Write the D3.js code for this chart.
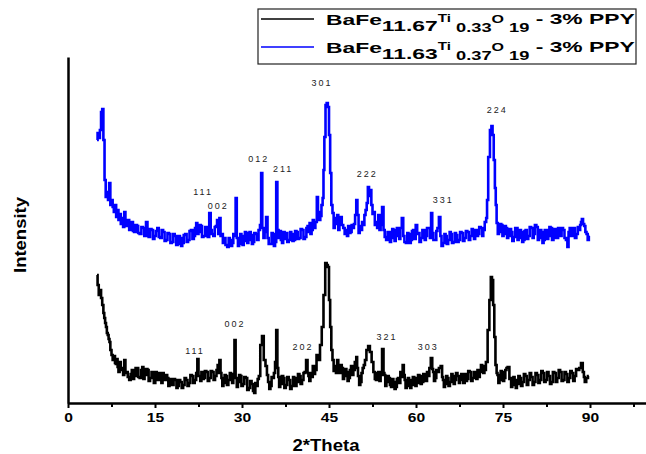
<!DOCTYPE html>
<html>
<head>
<meta charset="utf-8">
<script src="https://cdn.jsdelivr.net/npm/d3@7"></script>
<style>
  body { margin: 0; background: #fff; }
  text { font-family: "Liberation Sans", Arial, sans-serif; }
</style>
</head>
<body>
<div id="plot"></div>
<script>
// Dimensions
const w = 646;
const h = 454;
const margin = { top: 57, right: 0, bottom: 51, left: 68 };

// XRD patterns: [2*theta, intensity]
const blackPattern = [
  [5.0,128],[5.2,118],[5.4,108],[5.6,113],[5.8,105],[6.0,98],[6.2,90],[6.3,85],[6.5,80],[6.6,76],
  [6.8,70],[6.9,68],[7.1,64],[7.2,61],[7.4,53],[7.6,48],[7.8,43],[8.0,47],[8.2,40],[8.3,39],
  [8.5,44],[8.6,36],[8.8,31],[9.0,41],[9.2,35],[9.4,33],[9.6,28],[9.8,43],[10.0,30],[10.2,31],
  [10.4,26],[10.7,23],[10.9,29],[11.1,33],[11.3,24],[11.5,27],[11.8,35],[12.0,35],[12.2,26],[12.5,25],
  [12.7,33],[12.9,36],[13.1,24],[13.3,28],[13.6,34],[13.8,33],[14.0,22],[14.3,25],[14.5,31],[14.7,25],
  [14.9,20],[15.2,31],[15.4,26],[15.6,23],[15.8,30],[16.0,27],[16.2,20],[16.4,30],[16.6,26],[16.8,23],
  [17.0,28],[17.2,25],[17.4,17],[17.6,19],[17.8,24],[18.1,18],[18.3,24],[18.6,23],[18.8,15],[19.0,17],
  [19.2,23],[19.5,21],[19.7,15],[20.0,18],[20.2,25],[20.5,23],[20.7,17],[21.0,20],[21.2,28],[21.5,27],
  [21.7,20],[22.0,23],[22.2,30],[22.4,44],[22.6,27],[22.7,27],[22.9,22],[23.1,31],[23.3,24],[23.5,25],
  [23.7,32],[24.0,31],[24.2,22],[24.5,25],[24.7,32],[25.0,31],[25.2,23],[25.5,27],[25.7,33],[25.9,38],
  [26.0,30],[26.2,43],[26.4,30],[26.5,25],[26.7,17],[26.9,20],[27.1,28],[27.3,27],[27.5,18],[27.8,23],
  [28.0,30],[28.2,29],[28.4,20],[28.6,25],[28.8,63],[29.0,25],[29.2,16],[29.4,21],[29.6,28],[29.8,27],
  [30.0,17],[30.3,19],[30.5,26],[30.8,25],[31.0,13],[31.3,15],[31.5,22],[31.8,19],[32.0,12],[32.2,10],
  [32.4,20],[32.6,17],[32.8,24],[33.0,27],[33.3,58],[33.6,67],[33.9,43],[34.2,37],[34.4,28],[34.6,21],
  [34.8,14],[35.0,17],[35.2,26],[35.4,25],[35.6,30],[35.8,41],[36.0,73],[36.2,35],[36.3,26],[36.5,16],
  [36.7,19],[37.0,27],[37.2,25],[37.4,15],[37.7,18],[37.9,26],[38.2,23],[38.4,14],[38.7,17],[38.9,26],
  [39.1,25],[39.3,17],[39.5,21],[39.8,29],[40.0,27],[40.2,19],[40.5,23],[40.7,30],[40.9,31],[41.2,43],
  [41.4,30],[41.5,27],[41.7,22],[41.9,30],[42.1,26],[42.3,37],[42.5,29],[42.7,33],[43.0,48],[43.3,43],
  [43.6,58],[43.9,76],[44.2,108],[44.5,140],[44.7,138],[44.9,136],[45.1,103],[45.3,76],[45.5,53],[45.7,43],
  [45.9,32],[46.1,37],[46.3,30],[46.5,43],[46.7,35],[46.9,30],[47.1,38],[47.3,35],[47.5,24],[47.7,27],
  [47.9,34],[48.1,31],[48.3,22],[48.5,25],[48.7,33],[48.9,37],[49.1,28],[49.3,33],[49.6,41],[49.8,46],
  [49.9,35],[50.1,27],[50.3,18],[50.5,21],[50.7,30],[50.9,35],[51.1,38],[51.3,43],[51.6,53],[51.9,57],
  [52.2,51],[52.5,41],[52.8,31],[53.0,24],[53.2,23],[53.4,30],[53.6,31],[53.8,22],[54.0,28],[54.3,54],
  [54.5,30],[54.6,28],[54.8,17],[55.0,21],[55.2,27],[55.4,25],[55.6,18],[55.8,16],[56.0,24],[56.2,21],
  [56.4,14],[56.6,16],[56.8,24],[57.0,25],[57.2,20],[57.4,31],[57.6,26],[57.8,38],[58.0,28],[58.1,23],
  [58.3,15],[58.5,17],[58.7,25],[58.9,23],[59.1,15],[59.3,18],[59.6,26],[59.8,25],[60.0,17],[60.2,20],
  [60.5,28],[60.7,27],[60.9,19],[61.1,21],[61.4,29],[61.6,25],[61.8,22],[62.0,31],[62.2,27],[62.4,35],
  [62.7,45],[62.9,34],[63.0,31],[63.2,22],[63.4,25],[63.6,33],[63.8,31],[64.1,35],[64.4,37],[64.6,26],
  [64.7,23],[64.9,16],[65.1,19],[65.3,27],[65.5,25],[65.7,17],[66.0,21],[66.2,29],[66.4,27],[66.6,19],
  [66.8,23],[67.0,30],[67.3,27],[67.5,20],[67.7,23],[67.9,29],[68.0,25],[68.3,20],[68.5,29],[68.7,22],
  [68.9,24],[69.1,32],[69.4,31],[69.6,22],[69.9,25],[70.1,31],[70.3,28],[70.5,24],[70.7,33],[70.9,26],
  [71.1,31],[71.3,38],[71.5,37],[71.7,30],[71.9,33],[72.2,41],[72.5,73],[72.8,103],[73.0,126],[73.2,123],
  [73.4,98],[73.6,66],[73.8,38],[74.0,30],[74.1,28],[74.3,20],[74.5,23],[74.7,32],[74.9,31],[75.1,22],
  [75.3,25],[75.5,33],[75.7,35],[75.9,36],[76.0,36],[76.2,24],[76.3,25],[76.5,16],[76.7,18],[76.9,26],
  [77.1,23],[77.3,15],[77.5,19],[77.8,27],[78.0,25],[78.2,17],[78.5,21],[78.7,29],[79.0,27],[79.2,18],
  [79.5,23],[79.7,30],[80.0,26],[80.2,18],[80.5,21],[80.7,30],[81.0,28],[81.2,20],[81.5,23],[81.7,32],
  [82.0,30],[82.2,21],[82.5,23],[82.7,31],[83.0,27],[83.2,19],[83.5,21],[83.7,31],[84.0,30],[84.2,21],
  [84.5,25],[84.7,33],[85.0,31],[85.2,22],[85.5,23],[85.7,31],[86.0,29],[86.2,21],[86.5,25],[86.7,32],
  [87.0,30],[87.2,22],[87.5,27],[87.7,34],[88.0,33],[88.3,35],[88.6,40],[88.9,31],[89.0,26],[89.2,21],
  [89.5,25],[89.8,27]
];

const bluePattern = [
  [5.0,118],[5.2,125],[5.4,120],[5.6,128],[5.8,146],[6.0,149],[6.2,118],[6.4,78],[6.6,61],[6.8,66],
  [7.0,58],[7.2,75],[7.4,53],[7.6,58],[7.8,51],[8.0,46],[8.2,53],[8.4,41],[8.6,48],[8.8,38],
  [9.0,44],[9.2,34],[9.4,40],[9.6,31],[9.8,46],[10.0,35],[10.2,32],[10.4,38],[10.7,28],[10.9,34],
  [11.1,36],[11.3,27],[11.5,26],[11.8,33],[12.0,32],[12.2,25],[12.5,24],[12.8,31],[13.0,30],[13.3,22],
  [13.6,36],[13.8,26],[14.0,21],[14.3,29],[14.5,28],[14.8,19],[15.0,22],[15.3,27],[15.5,30],[15.8,21],
  [16.0,20],[16.3,28],[16.5,26],[16.8,17],[17.0,18],[17.3,25],[17.5,24],[17.8,15],[18.0,16],[18.3,24],
  [18.5,22],[18.8,13],[19.0,14],[19.2,22],[19.4,20],[19.6,12],[19.8,15],[20.1,23],[20.3,24],[20.6,16],
  [20.8,18],[21.1,27],[21.3,28],[21.6,19],[21.8,22],[22.0,30],[22.2,35],[22.4,24],[22.6,26],[22.8,33],
  [23.0,32],[23.2,21],[23.5,22],[23.8,31],[24.0,30],[24.2,21],[24.5,45],[24.7,28],[24.9,24],[25.2,22],
  [25.4,31],[25.6,32],[25.8,38],[26.0,24],[26.2,40],[26.4,22],[26.6,24],[26.8,15],[27.0,20],[27.3,13],
  [27.6,11],[27.8,20],[28.0,18],[28.2,12],[28.4,15],[28.6,24],[28.8,22],[29.0,60],[29.2,20],[29.4,12],
  [29.6,14],[29.8,24],[30.0,22],[30.2,13],[30.4,17],[30.6,26],[30.8,25],[31.0,15],[31.2,18],[31.4,26],
  [31.6,23],[31.8,14],[32.0,16],[32.2,25],[32.5,24],[32.7,18],[33.0,28],[33.2,33],[33.4,85],[33.6,30],
  [33.8,20],[34.0,26],[34.3,41],[34.5,20],[34.7,14],[35.0,14],[35.2,25],[35.4,24],[35.6,12],[35.8,16],
  [36.0,76],[36.2,28],[36.4,20],[36.6,27],[36.8,18],[37.0,15],[37.2,26],[37.5,19],[37.7,25],[37.9,16],
  [38.2,18],[38.4,26],[38.6,24],[38.8,17],[39.0,18],[39.3,27],[39.5,26],[39.7,19],[40.0,20],[40.2,29],
  [40.5,28],[40.7,19],[41.0,21],[41.2,30],[41.4,32],[41.6,26],[41.7,35],[41.9,24],[42.1,28],[42.3,38],
  [42.5,30],[42.8,36],[43.0,61],[43.2,46],[43.4,38],[43.6,42],[43.8,53],[44.0,60],[44.1,88],[44.3,121],
  [44.5,153],[44.7,155],[44.9,151],[45.1,123],[45.3,85],[45.5,53],[45.7,45],[45.9,30],[46.1,40],[46.3,34],
  [46.5,43],[46.7,28],[46.9,33],[47.1,41],[47.3,33],[47.6,30],[47.8,24],[48.0,28],[48.2,22],[48.4,32],
  [48.6,25],[48.8,26],[49.0,33],[49.2,30],[49.4,34],[49.6,43],[49.8,58],[50.0,43],[50.2,25],[50.4,32],
  [50.6,28],[50.8,36],[51.0,33],[51.2,43],[51.4,48],[51.6,55],[51.8,71],[52.0,62],[52.2,68],[52.4,53],
  [52.6,44],[52.8,46],[53.0,33],[53.2,36],[53.4,30],[53.6,43],[53.8,28],[54.0,33],[54.3,51],[54.5,28],
  [54.7,21],[55.0,18],[55.2,26],[55.4,26],[55.6,16],[55.8,20],[56.0,29],[56.2,28],[56.4,17],[56.6,22],
  [56.8,30],[57.0,26],[57.2,19],[57.4,30],[57.7,40],[57.9,22],[58.1,16],[58.4,15],[58.6,25],[58.8,24],
  [59.0,15],[59.2,18],[59.4,27],[59.6,28],[59.8,19],[60.1,33],[60.3,24],[60.5,25],[60.7,16],[61.0,20],
  [61.2,28],[61.4,28],[61.6,18],[61.8,22],[62.0,30],[62.3,30],[62.5,20],[62.7,45],[62.9,25],[63.1,18],
  [63.4,18],[63.6,27],[63.8,30],[64.1,41],[64.3,22],[64.5,12],[64.8,15],[65.0,24],[65.2,22],[65.4,14],
  [65.7,18],[65.9,26],[66.1,24],[66.3,15],[66.6,16],[66.8,25],[67.0,23],[67.2,16],[67.5,18],[67.7,26],
  [68.0,25],[68.2,17],[68.5,20],[68.7,27],[69.0,26],[69.2,18],[69.5,22],[69.7,29],[69.9,23],[70.1,19],
  [70.3,28],[70.6,22],[70.8,24],[71.0,31],[71.3,30],[71.5,22],[71.7,28],[72.0,36],[72.2,40],[72.3,58],
  [72.6,101],[72.9,128],[73.1,132],[73.3,123],[73.5,98],[73.7,70],[73.8,53],[74.0,35],[74.2,24],[74.4,26],
  [74.6,34],[74.8,33],[75.0,22],[75.2,24],[75.4,32],[75.6,30],[75.8,20],[76.0,22],[76.3,29],[76.5,26],
  [76.7,17],[77.0,21],[77.2,30],[77.4,30],[77.6,18],[77.8,20],[78.0,28],[78.2,26],[78.4,16],[78.6,18],
  [78.8,27],[79.0,28],[79.2,19],[79.5,22],[79.7,31],[80.0,30],[80.2,20],[80.4,24],[80.6,33],[80.9,31],
  [81.1,18],[81.3,20],[81.5,28],[81.7,26],[81.9,15],[82.1,18],[82.3,28],[82.5,28],[82.7,19],[82.9,22],
  [83.1,31],[83.3,30],[83.6,18],[83.8,20],[84.0,29],[84.2,26],[84.4,20],[84.6,30],[84.8,24],[85.0,22],
  [85.2,30],[85.5,28],[85.7,20],[86.0,18],[86.2,11],[86.4,26],[86.6,30],[86.9,22],[87.1,28],[87.3,30],
  [87.5,20],[87.8,24],[88.0,31],[88.2,28],[88.4,33],[88.5,36],[88.7,39],[88.9,34],[89.1,32],[89.3,26],
  [89.5,24],[89.7,18],[89.9,22]
];
const blueOffset = 145;

// Miller indices: [label, 2*theta, intensity]
const blackPeaks = [["111",21.9,52],["002",28.8,79],["202",40.5,56],["321",55.0,66],["303",62.1,56]];
const bluePeaks = [["111",23.3,66],["002",25.9,52],["012",32.9,99],["211",37.1,89],
                   ["301",43.8,175],["222",51.6,84],["331",64.7,58],["224",74.0,148]];

const xTicks = [0, 15, 30, 45, 60, 75, 90];
const xMinor = [7.5, 22.5, 37.5, 52.5, 67.5, 82.5, 97.5];

const svg = d3.select("div#plot")
  .append("svg")
  .attr("width", w)
  .attr("height", h);

// Scales
const xScale = d3.scaleLinear().domain([0, 100]).range([margin.left, 648]);
const yScale = d3.scaleLinear().domain([0, 346]).range([h - margin.bottom, margin.top]);

// Patterns
const line = d3.line()
  .curve(d3.curveStep)
  .x(d => xScale(d[0]));

svg.append("path")
  .datum(blackPattern)
  .attr("fill", "none")
  .attr("stroke", "#000")
  .attr("stroke-width", 2.6)
  .attr("d", line.y(d => yScale(d[1])));

svg.append("path")
  .datum(bluePattern)
  .attr("fill", "none")
  .attr("stroke", "#0000ff")
  .attr("stroke-width", 2.6)
  .attr("d", line.y(d => yScale(d[1] + blueOffset)));

// Peak labels
const peakText = (data, off) => svg.append("g")
  .selectAll("text")
  .data(data)
  .enter().append("text")
  .attr("x", d => xScale(d[1]))
  .attr("y", d => yScale(d[2] + off) + 3)
  .attr("text-anchor", "middle")
  .attr("font-size", 9)
  .attr("letter-spacing", 2)
  .attr("fill", "#222")
  .text(d => d[0]);
peakText(blackPeaks, 0);
peakText(bluePeaks, blueOffset);

// Axes
const xAxisGroup = svg.append("g")
  .attr("transform", `translate(0, ${h - margin.bottom})`)
  .call(d3.axisBottom(xScale).tickValues(xTicks).tickSize(5).tickSizeOuter(0).tickPadding(5));
xAxisGroup.select(".domain").attr("stroke-width", 2.5);
xAxisGroup.selectAll(".tick line").attr("stroke-width", 2);
xAxisGroup.selectAll(".tick text")
  .attr("font-size", 12.5)
  .attr("font-weight", "bold")
  .attr("font-family", "Liberation Sans, Arial, sans-serif")
  .attr("fill", "#000")
  .attr("transform", "scale(1.25,1)");

const minorGroup = svg.append("g")
  .attr("transform", `translate(0, ${h - margin.bottom})`)
  .call(d3.axisBottom(xScale).tickValues(xMinor).tickSize(4).tickFormat(""));
minorGroup.select(".domain").remove();
minorGroup.selectAll(".tick line").attr("stroke-width", 2);

const yAxisGroup = svg.append("g")
  .attr("transform", `translate(${margin.left}, 0)`)
  .call(d3.axisLeft(yScale).tickValues([]).tickSizeOuter(0));
yAxisGroup.select(".domain").attr("stroke-width", 2.5);

// Axis titles
svg.append("text")
  .attr("x", 326)
  .attr("y", 451)
  .attr("text-anchor", "middle")
  .attr("font-size", 16)
  .attr("font-weight", "bold")
  .attr("textLength", 67)
  .attr("lengthAdjust", "spacingAndGlyphs")
  .text("2*Theta");

svg.append("text")
  .attr("transform", "translate(26, 235) rotate(-90)")
  .attr("text-anchor", "middle")
  .attr("font-size", 17)
  .attr("font-weight", "bold")
  .attr("textLength", 76)
  .attr("lengthAdjust", "spacingAndGlyphs")
  .text("Intensity");

// Legend
const legend = svg.append("g");
legend.append("rect")
  .attr("x", 258).attr("y", 9)
  .attr("width", 378).attr("height", 55)
  .attr("fill", "#fff")
  .attr("stroke", "#222")
  .attr("stroke-width", 1.2);

const legendItems = [
  { color: "#000", sub1: "11.67", sub2: " 0.33" },
  { color: "#0000ff", sub1: "11.63", sub2: " 0.37" }
];

legendItems.forEach((item, i) => {
  const dy = i * 28;
  legend.append("line")
    .attr("x1", 261).attr("x2", 314)
    .attr("y1", 19 + dy).attr("y2", 19 + dy)
    .attr("stroke", item.color)
    .attr("stroke-width", 1.5);

  const g = legend.append("g").attr("transform", `translate(326, ${dy})`);
  const t = g.append("text").attr("font-weight", "bold").attr("fill", "#000");
  t.append("tspan").attr("y", 25).attr("font-size", 15).text("BaFe");
  t.append("tspan").attr("y", 31.5).attr("font-size", 15).text(item.sub1);
  t.append("tspan").attr("y", 22).attr("font-size", 10).text("Ti");
  t.append("tspan").attr("y", 32).attr("font-size", 12).text(item.sub2);
  t.append("tspan").attr("y", 23).attr("font-size", 10.5).text("O");
  t.append("tspan").attr("y", 32).attr("font-size", 12).text(" 19");
  t.append("tspan").attr("y", 24.5).attr("font-size", 15).text(" - 3% PPY");
  const tw = t.node().getComputedTextLength();
  g.attr("transform", `translate(326, ${dy}) scale(${309 / tw}, 1)`);
});
</script>
</body>
</html>
